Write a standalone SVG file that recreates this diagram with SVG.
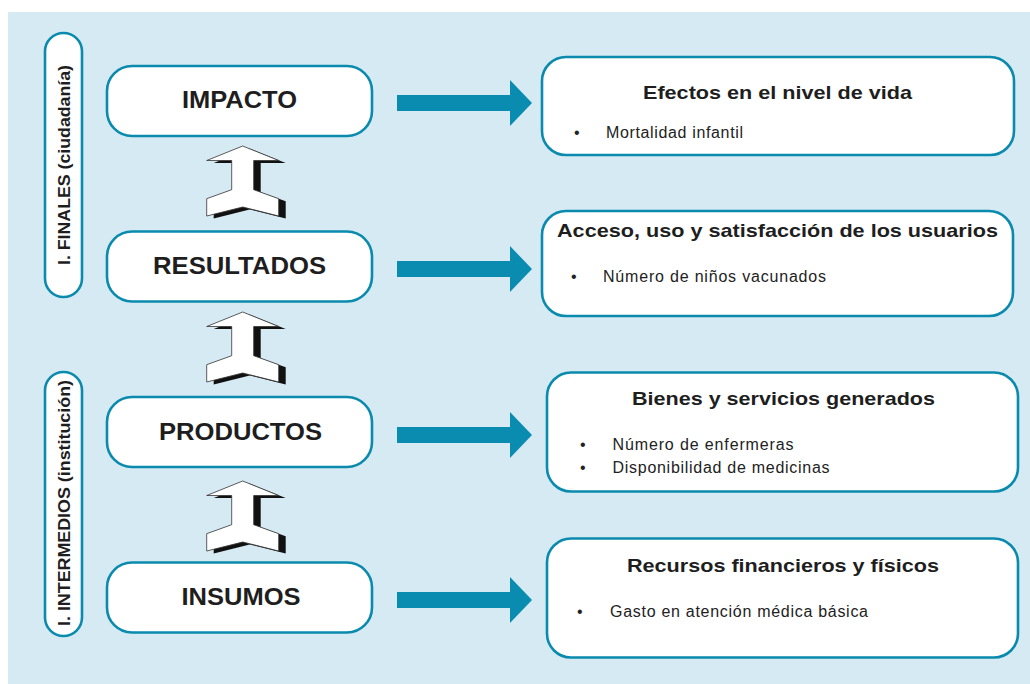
<svg xmlns="http://www.w3.org/2000/svg" width="1030" height="684" viewBox="0 0 1030 684">
<style>
.bg{fill:#d6eaf3}
.box{fill:#fff;stroke:#0a8aad;stroke-width:2.6}
.lt{font-family:"Liberation Sans",Arial,sans-serif;font-weight:bold;font-size:24px;fill:#1e1e1e;text-anchor:middle}
.tt{font-family:"Liberation Sans",Arial,sans-serif;font-weight:bold;font-size:19px;fill:#1e1e1e;text-anchor:middle}
.bt{font-family:"Liberation Sans",Arial,sans-serif;font-size:16px;fill:#222}
.st{font-family:"Liberation Sans",Arial,sans-serif;font-weight:bold;font-size:17px;fill:#1e1e1e;text-anchor:middle}
.ra{fill:#0a8cb0}
.sh{fill:#111}
.ua{fill:#fff;stroke:#333;stroke-width:0.8}
</style>
<defs>
<path id="up" d="M0,0 L36,14.5 L11,14.5 L11,43.7 L36,52.7 L36,70 L0,61 L-36,70 L-36,52.7 L-11,43.7 L-11,14.5 L-36,14.5 Z"/>
<path id="ra" d="M0,-8 L113,-8 L113,-23 L135,0 L113,23 L113,8 L0,8 Z"/>
</defs>
<rect class="bg" x="8" y="12" width="1022" height="672"/>

<g id="side-finales">
<rect class="box" x="45" y="33" width="37" height="264" rx="18.5"/>
<text class="st" transform="translate(69.5,165) rotate(-90)" textLength="200" lengthAdjust="spacingAndGlyphs">I. FINALES (ciudadanía)</text>
</g>
<g id="side-intermedios">
<rect class="box" x="45" y="372" width="37" height="264" rx="18.5"/>
<text class="st" transform="translate(69.5,503) rotate(-90)" textLength="246" lengthAdjust="spacingAndGlyphs">I. INTERMEDIOS (institución)</text>
</g>

<g id="impacto">
<rect class="box" x="107" y="66" width="265" height="70" rx="25"/>
<text class="lt" x="239.5" y="108" textLength="115" lengthAdjust="spacingAndGlyphs">IMPACTO</text>
</g>
<g id="resultados">
<rect class="box" x="107" y="231.5" width="265" height="70" rx="25"/>
<text class="lt" x="239.5" y="274" textLength="173" lengthAdjust="spacingAndGlyphs">RESULTADOS</text>
</g>
<g id="productos">
<rect class="box" x="107" y="397" width="265" height="70" rx="25"/>
<text class="lt" x="240.5" y="440" textLength="163" lengthAdjust="spacingAndGlyphs">PRODUCTOS</text>
</g>
<g id="insumos">
<rect class="box" x="107" y="562.5" width="265" height="70" rx="25"/>
<text class="lt" x="241" y="605" textLength="119" lengthAdjust="spacingAndGlyphs">INSUMOS</text>
</g>

<g id="efectos">
<rect class="box" x="542" y="57" width="472" height="98" rx="24"/>
<text class="tt" x="777.5" y="99" textLength="269" lengthAdjust="spacingAndGlyphs">Efectos en el nivel de vida</text>
<text class="bt" x="574" y="138">•</text>
<text class="bt" x="606" y="138" textLength="137">Mortalidad infantil</text>
</g>
<g id="acceso">
<rect class="box" x="542" y="211" width="471" height="105" rx="24"/>
<text class="tt" x="777.5" y="237" textLength="441" lengthAdjust="spacingAndGlyphs">Acceso, uso y satisfacción de los usuarios</text>
<text class="bt" x="571" y="282">•</text>
<text class="bt" x="603" y="282" textLength="223">Número de niños vacunados</text>
</g>
<g id="bienes">
<rect class="box" x="547" y="372.5" width="471" height="119" rx="24"/>
<text class="tt" x="783.5" y="405" textLength="303" lengthAdjust="spacingAndGlyphs">Bienes y servicios generados</text>
<text class="bt" x="580" y="450">•</text>
<text class="bt" x="612.5" y="450" textLength="181">Número de enfermeras</text>
<text class="bt" x="580" y="473">•</text>
<text class="bt" x="612.5" y="473" textLength="217">Disponibilidad de medicinas</text>
</g>
<g id="recursos">
<rect class="box" x="547" y="538.5" width="471" height="119" rx="24"/>
<text class="tt" x="783" y="572" textLength="312" lengthAdjust="spacingAndGlyphs">Recursos financieros y físicos</text>
<text class="bt" x="577" y="617">•</text>
<text class="bt" x="610" y="617" textLength="258">Gasto en atención médica básica</text>
</g>

<g id="connectors">
<use href="#ra" class="ra" x="397" y="103"/>
<use href="#ra" class="ra" x="397" y="269"/>
<use href="#ra" class="ra" x="397" y="435"/>
<use href="#ra" class="ra" x="397" y="600"/>
<g transform="translate(242.7,146)"><use href="#up" class="sh" x="7" y="2.5"/><use href="#up" class="ua"/></g>
<g transform="translate(242.7,312)"><use href="#up" class="sh" x="7" y="2.5"/><use href="#up" class="ua"/></g>
<g transform="translate(242.7,481)"><use href="#up" class="sh" x="7" y="2.5"/><use href="#up" class="ua"/></g>
</g>
</svg>
